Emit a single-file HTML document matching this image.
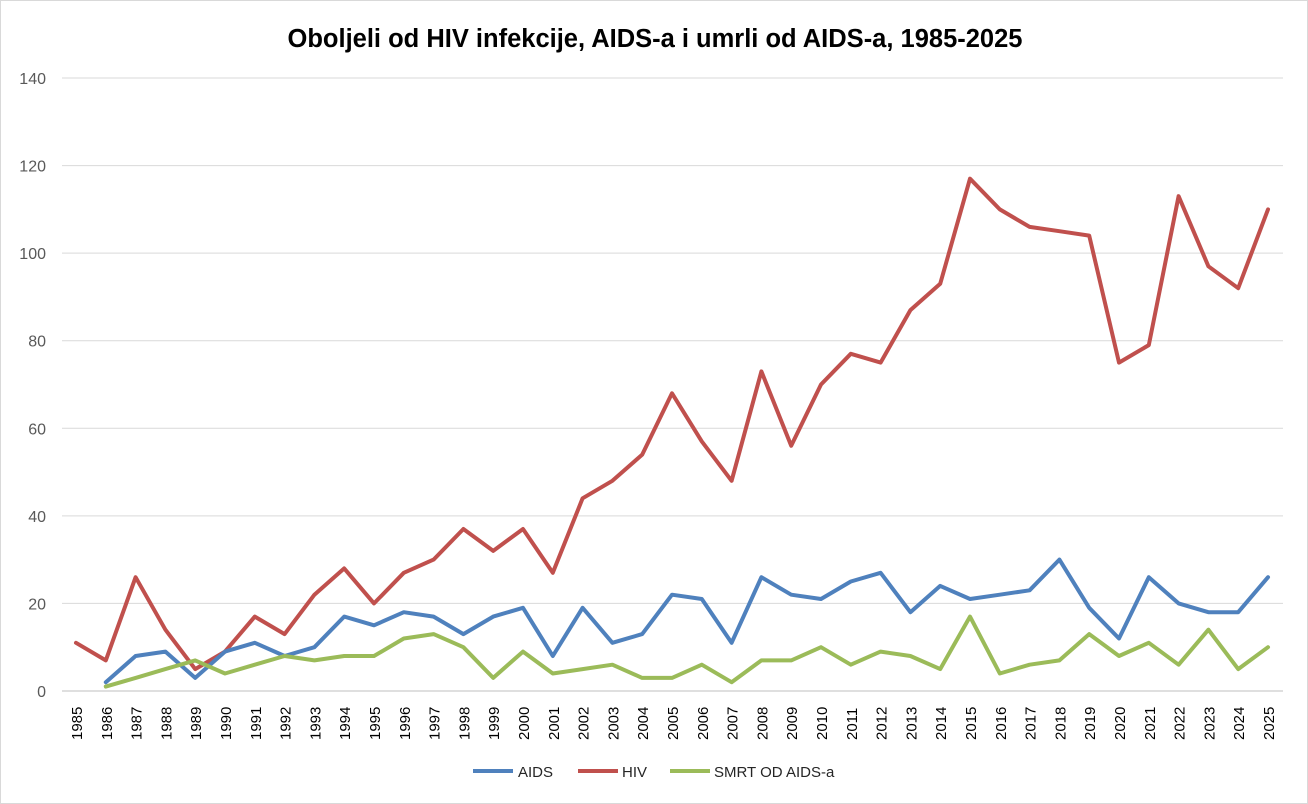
<!DOCTYPE html>
<html><head><meta charset="utf-8">
<style>
html,body{margin:0;padding:0;background:#fff;}
svg{display:block;font-family:"Liberation Sans",Arial,sans-serif;}
</style></head>
<body>
<svg id="c" width="1308" height="804" xmlns="http://www.w3.org/2000/svg">
<rect x="0.5" y="0.5" width="1307" height="803" fill="#fff" stroke="#d9d9d9"/>
<text x="655" y="47" text-anchor="middle" font-size="25.5" font-weight="bold" fill="#000">Oboljeli od HIV infekcije, AIDS-a i umrli od AIDS-a, 1985-2025</text>
<g id="g"></g>
</svg>
<script>
var hiv=[11,7,26,14,5,9,17,13,22,28,20,27,30,37,32,37,27,44,48,54,68,57,48,73,56,70,77,75,87,93,117,110,106,105,104,75,79,113,97,92,110];
var aids=[null,2,8,9,3,9,11,8,10,17,15,18,17,13,17,19,8,19,11,13,22,21,11,26,22,21,25,27,18,24,21,22,23,30,19,12,26,20,18,18,26];
var smrt=[null,1,3,5,7,4,6,8,7,8,8,12,13,10,3,9,4,5,6,3,3,6,2,7,7,10,6,9,8,5,17,4,6,7,13,8,11,6,14,5,10];
var x0=76,dx=(1268-76)/40,y0=691,py=(691-78)/140;
function X(i){return x0+i*dx}function Y(v){return y0-v*py}
var s='';
for(var v=0;v<=140;v+=20){var y=Y(v);
 s+='<line x1="62" x2="1283" y1="'+y+'" y2="'+y+'" stroke="'+(v==0?'#bfbfbf':'#d9d9d9')+'" stroke-width="1"/>';
 s+='<text x="46" y="'+(y+6)+'" text-anchor="end" font-size="16" fill="#595959">'+v+'</text>';}
for(var i=0;i<=40;i++){var x=X(i);
 s+='<text transform="translate('+(x+6)+',740) rotate(-90)" font-size="15" fill="#000">'+(1985+i)+'</text>';}
function line(d,c){var p=[];for(var i=0;i<d.length;i++)if(d[i]!=null)p.push(X(i).toFixed(1)+','+Y(d[i]).toFixed(1));
 return '<polyline points="'+p.join(' ')+'" fill="none" stroke="'+c+'" stroke-width="4" stroke-linejoin="round" stroke-linecap="round"/>';}
s+=line(hiv,'#c0504d')+line(aids,'#4f81bd')+line(smrt,'#9bbb59');
s+='<line x1="473" x2="513" y1="771" y2="771" stroke="#4f81bd" stroke-width="4"/><text x="518" y="777" font-size="15" fill="#262626">AIDS</text>';
s+='<line x1="578" x2="618" y1="771" y2="771" stroke="#c0504d" stroke-width="4"/><text x="622" y="777" font-size="15" fill="#262626">HIV</text>';
s+='<line x1="670" x2="710" y1="771" y2="771" stroke="#9bbb59" stroke-width="4"/><text x="714" y="777" font-size="15" fill="#262626">SMRT OD AIDS-a</text>';
document.getElementById('g').innerHTML=s;
</script>
</body></html>
